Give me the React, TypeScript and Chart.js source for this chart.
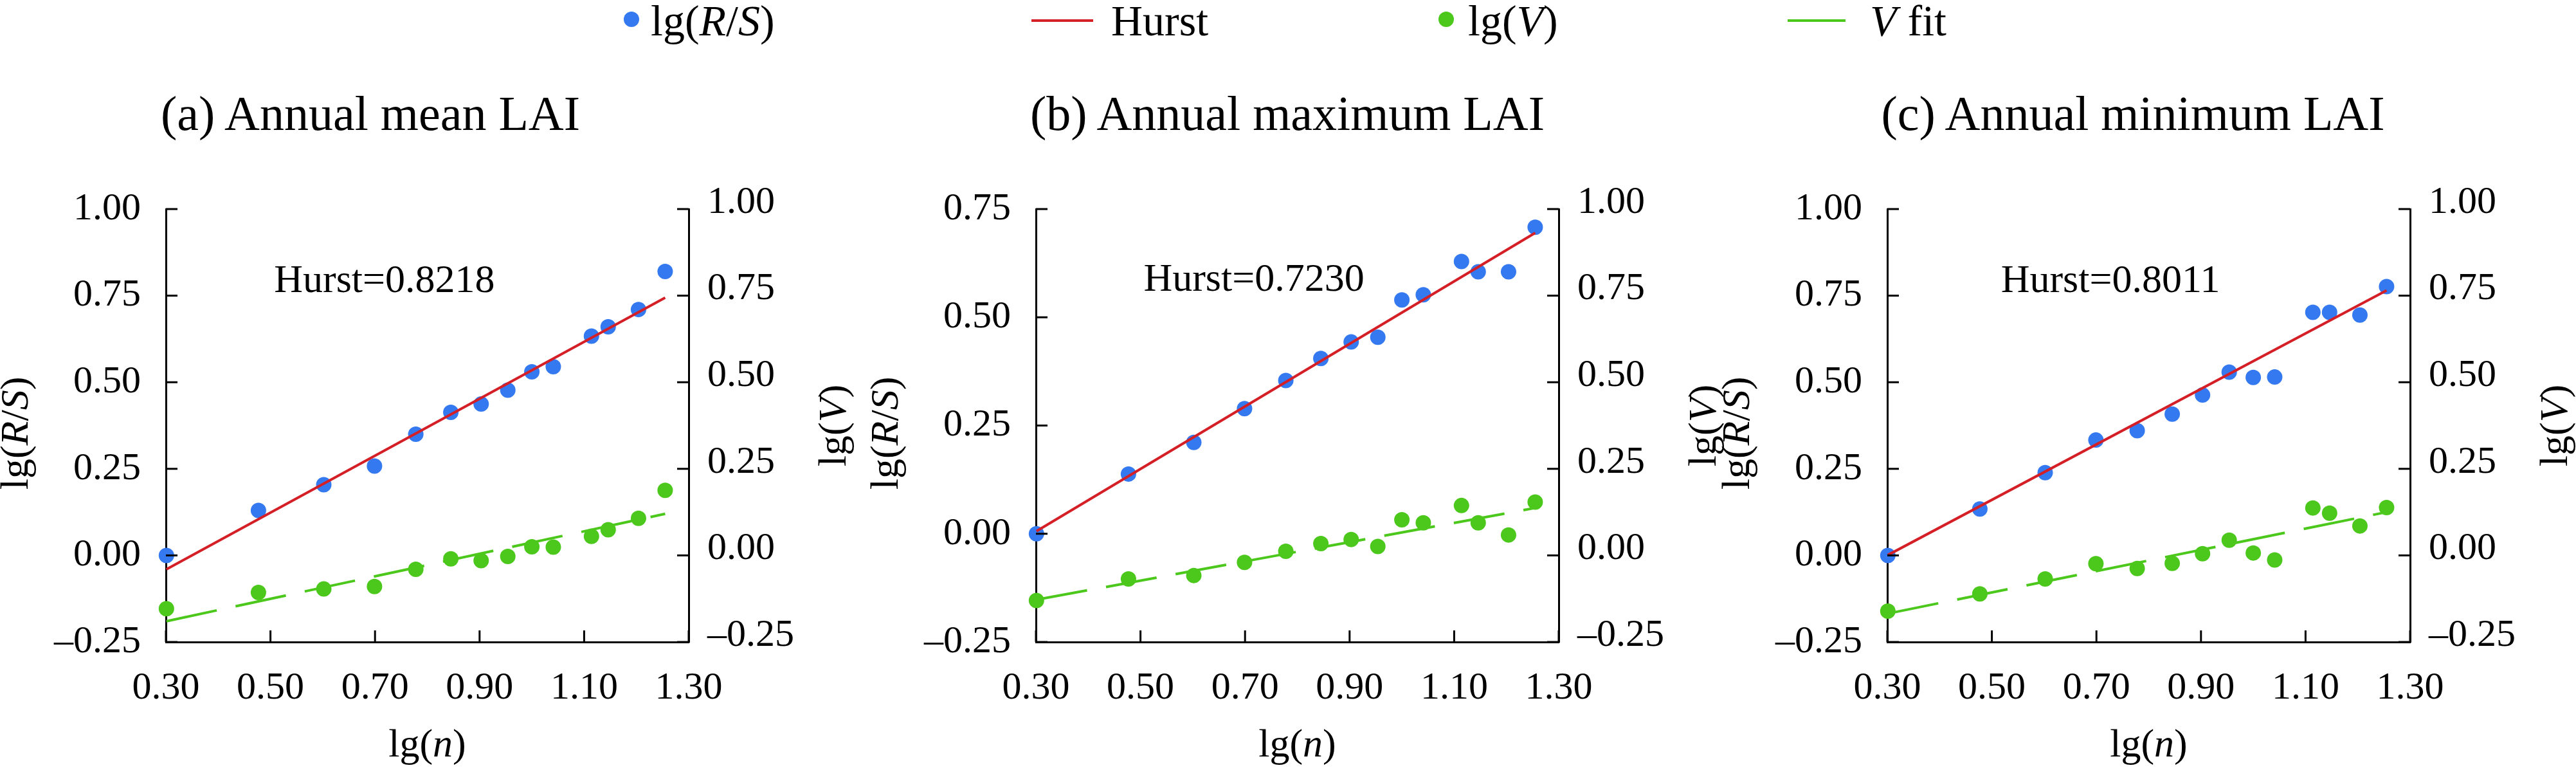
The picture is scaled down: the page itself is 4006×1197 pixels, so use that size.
import React, { useEffect, useRef } from "react";
import { Chart, registerables } from "chart.js";
Chart.register(...registerables);

const lgN = [0.301, 0.477, 0.602, 0.699, 0.778, 0.845, 0.903, 0.954, 1.0, 1.041, 1.114, 1.146, 1.204, 1.255];
const fitX = [0.301, 1.255];

const rsA = [0.0, 0.13, 0.204, 0.258, 0.35, 0.413, 0.437, 0.477, 0.53, 0.545, 0.633, 0.66, 0.71, 0.82];
const vA = [-0.154, -0.107, -0.097, -0.09, -0.04, -0.01, -0.015, -0.003, 0.025, 0.024, 0.055, 0.074, 0.107, 0.188];
const hurstA = [-0.04, 0.744];
const vfitA = [-0.19, 0.12];

const rsB = [0.0, 0.138, 0.211, 0.289, 0.354, 0.405, 0.443, 0.454, 0.54, 0.552, 0.629, 0.605, 0.605, 0.708];
const vB = [-0.13, -0.068, -0.058, -0.02, 0.012, 0.034, 0.046, 0.026, 0.103, 0.094, 0.144, 0.094, 0.059, 0.154];
const hurstB = [0.006, 0.695];
const vfitB = [-0.128, 0.137];

const rsC = [0.0, 0.134, 0.239, 0.333, 0.36, 0.408, 0.463, 0.529, 0.514, 0.515, 0.702, 0.702, 0.694, 0.776];
const vC = [-0.161, -0.111, -0.068, -0.024, -0.038, -0.023, 0.005, 0.044, 0.007, -0.013, 0.137, 0.122, 0.085, 0.138];
const hurstC = [0.001, 0.765];
const vfitC = [-0.168, 0.125];

const hurstLabels = ["Hurst=0.8218", "Hurst=0.7230", "Hurst=0.8011"];
const titles = ["(a) Annual mean LAI", "(b) Annual maximum LAI", "(c) Annual minimum LAI"];
const leftMax = [1.0, 0.75, 1.0];

const BLUE = "#3479f0";
const RED = "#d41f26";
const GREEN = "#4cc81c";
const FONT = '"Liberation Serif", "Times New Roman", serif';

type Seg = [string, boolean];
function drawRich(ctx: CanvasRenderingContext2D, segs: Seg[], x: number, y: number, size: number, rot: number) {
  ctx.save();
  ctx.translate(x, y);
  ctx.rotate(rot);
  ctx.textBaseline = "middle";
  ctx.fillStyle = "#000";
  let total = 0;
  for (const [t, it] of segs) {
    ctx.font = `${it ? "italic " : ""}${size}px ${FONT}`;
    total += ctx.measureText(t).width;
  }
  let cx = -total / 2;
  ctx.textAlign = "left";
  for (const [t, it] of segs) {
    ctx.font = `${it ? "italic " : ""}${size}px ${FONT}`;
    ctx.fillText(t, cx, 0);
    cx += ctx.measureText(t).width;
  }
  ctx.restore();
}

const fmt = (v: number) => (v < -1e-9 ? "\u2013" + Math.abs(v).toFixed(2) : Math.abs(v).toFixed(2));

function Panel({ idx, left }: { idx: number; left: number }) {
  const ref = useRef<HTMLCanvasElement>(null);
  useEffect(() => {
    const rs = [rsA, rsB, rsC][idx];
    const v = [vA, vB, vC][idx];
    const h = [hurstA, hurstB, hurstC][idx];
    const vf = [vfitA, vfitB, vfitC][idx];
    const hurstPos = [[0.718, 0.79], [0.717, 0.585], [0.727, 0.79]][idx];
    const deco = {
      id: "deco",
      afterDraw(chart: any) {
        const ctx = chart.ctx as CanvasRenderingContext2D;
        const ca = chart.chartArea;
        const sx = chart.scales.x, sy = chart.scales.y, sy2 = chart.scales.y2;
        ctx.save();
        ctx.strokeStyle = "#000";
        ctx.lineWidth = 3;
        const L = 18;
        for (const t of sx.ticks) {
          const p = sx.getPixelForValue(t.value);
          ctx.beginPath(); ctx.moveTo(p, ca.bottom); ctx.lineTo(p, ca.bottom - L); ctx.stroke();
        }
        for (const t of sy.ticks) {
          const p = sy.getPixelForValue(t.value);
          ctx.beginPath(); ctx.moveTo(ca.left, p); ctx.lineTo(ca.left + L, p); ctx.stroke();
        }
        for (const t of sy2.ticks) {
          const p = sy2.getPixelForValue(t.value);
          ctx.beginPath(); ctx.moveTo(ca.right, p); ctx.lineTo(ca.right - L, p); ctx.stroke();
        }
        ctx.restore();
        drawRich(ctx, [[hurstLabels[idx], false]], sx.getPixelForValue(hurstPos[0]), sy.getPixelForValue(hurstPos[1]), 62, 0);
        const my = (ca.top + ca.bottom) / 2;
        drawRich(ctx, [["lg(", false], ["R", true], ["/", false], ["S", true], [")", false]], ca.left - 231, my + 12, 62, -Math.PI / 2);
        drawRich(ctx, [["lg(", false], ["V", true], [")", false]], ca.right + 228, my, 62, -Math.PI / 2);
        drawRich(ctx, [["lg(", false], ["n", true], [")", false]], (ca.left + ca.right) / 2, ca.bottom + 162, 62, 0);
      },
    };
    const tickFont = { family: FONT, size: 60 };
    const chart = new Chart(ref.current!, {
      type: "scatter",
      data: {
        datasets: [
          { type: "line", data: fitX.map((x, i) => ({ x, y: h[i] })), borderColor: RED, borderWidth: 4, pointRadius: 0, yAxisID: "y" },
          { type: "line", data: fitX.map((x, i) => ({ x, y: vf[i] })), borderColor: GREEN, borderWidth: 4, borderDash: [80, 30], pointRadius: 0, yAxisID: "y2" },
          { data: lgN.map((x, i) => ({ x, y: rs[i] })), backgroundColor: BLUE, borderWidth: 0, pointRadius: 12, yAxisID: "y" },
          { data: lgN.map((x, i) => ({ x, y: v[i] })), backgroundColor: GREEN, borderWidth: 0, pointRadius: 12, yAxisID: "y2" },
        ] as any,
      },
      options: {
        animation: false,
        responsive: false,
        clip: false as any,
        layout: { padding: { top: 36, bottom: 0, left: 0, right: 0 } },
        plugins: { legend: { display: false }, tooltip: { enabled: false } },
        scales: {
          x: {
            type: "linear", min: 0.3, max: 1.3,
            ticks: { stepSize: 0.2, padding: 36, color: "#000", font: tickFont, callback: (val: any) => fmt(Number(val)) },
            grid: { display: false, drawOnChartArea: false, drawTicks: false },
            border: { display: true, color: "#000", width: 3 },
            afterFit: (s: any) => { s.height = 199; },
          },
          y: {
            type: "linear", position: "left", min: -0.25, max: leftMax[idx],
            ticks: { stepSize: 0.25, padding: 39, color: "#000", font: tickFont, callback: (val: any) => fmt(Number(val)) },
            grid: { display: false, drawOnChartArea: false, drawTicks: false },
            border: { display: true, color: "#000", width: 3 },
            afterFit: (s: any) => { s.width = 258; },
          },
          y2: {
            type: "linear", position: "right", min: -0.25, max: 1.0,
            ticks: { stepSize: 0.25, padding: 29, color: "#000", font: tickFont, labelOffset: -10, callback: (val: any) => fmt(Number(val)) } as any,
            grid: { display: false, drawOnChartArea: false, drawTicks: false },
            border: { display: true, color: "#000", width: 3 },
            afterFit: (s: any) => { s.width = 258; },
          },
        },
      } as any,
      plugins: [deco],
    });
    return () => chart.destroy();
  }, [idx]);
  return <canvas ref={ref} width={1329} height={947} style={{ position: "absolute", left, top: 250, width: 1329, height: 947 }} />;
}

const txt = (x: number, y: number, size: number, children: React.ReactNode, center = false): React.ReactElement => (
  <div style={{ position: "absolute", left: x, top: y, fontFamily: FONT, fontSize: size, lineHeight: 1, whiteSpace: "nowrap", transform: center ? "translate(-50%,-50%)" : "translate(0,-50%)" }}>{children}</div>
);

export default function App() {
  useEffect(() => { document.body.style.margin = "0"; }, []);
  const lefts = [0, 1353, 2677];
  const titleX = [576, 2002, 3317];
  return (
    <div style={{ position: "relative", width: 4006, height: 1197, background: "#fff", overflow: "hidden" }}>
      <div style={{ position: "absolute", left: 970, top: 18, width: 24, height: 24, borderRadius: 12, background: BLUE }} />
      {txt(1012, 32, 68, <>lg(<i>R</i>/<i>S</i>)</>)}
      <div style={{ position: "absolute", left: 1604, top: 30, width: 96, height: 4, background: RED }} />
      {txt(1728, 32, 68, <>Hurst</>)}
      <div style={{ position: "absolute", left: 2237, top: 18, width: 24, height: 24, borderRadius: 12, background: GREEN }} />
      {txt(2283, 32, 68, <>lg(<i>V</i>)</>)}
      <div style={{ position: "absolute", left: 2780, top: 30, width: 90, height: 4, background: GREEN }} />
      {txt(2908, 32, 68, <><i>V</i> fit</>)}
      {titles.map((t, i) => <React.Fragment key={t}>{txt(titleX[i], 176, 76, t, true)}</React.Fragment>)}
      {lefts.map((l, i) => <Panel key={i} idx={i} left={l} />)}
    </div>
  );
}
